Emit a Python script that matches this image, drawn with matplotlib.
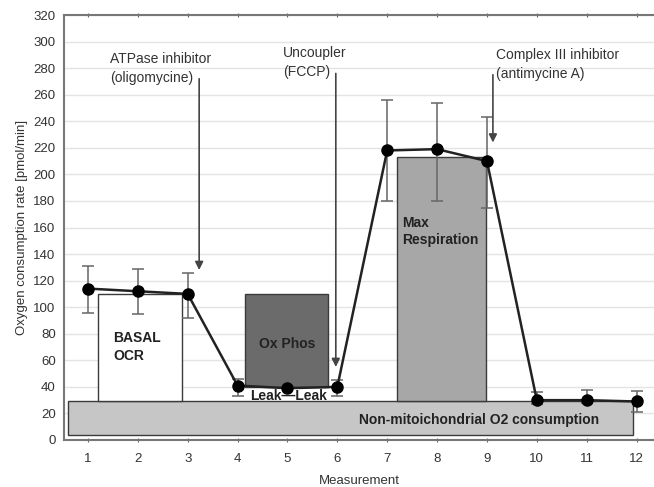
import matplotlib.pyplot as plt
import matplotlib.patches as mpatches
import numpy as np

plt.rcParams['font.family'] = ['Liberation Sans', 'DejaVu Sans']

# datos
meas = np.arange(1, 13)
ocr = np.array([114, 112, 110, 41, 39, 40, 218, 219, 210, 30, 30, 29])
err_lo = np.array([96, 95, 92, 33, 39, 33, 180, 180, 175, 27, 28, 21])
err_hi = np.array([131, 129, 126, 46, 39, 45, 256, 254, 243, 36, 38, 37])

# regiones: (x0, x1, y0, y1, color)
reg_x0 = [0.6, 1.2, 4.15, 7.2]
reg_x1 = [11.93, 2.88, 5.81, 8.98]
reg_y0 = [3.5, 29, 40, 29]
reg_y1 = [29, 110, 110, 213]
reg_col = ['#c6c6c6', 'white', '#6b6b6b', '#a7a7a7']

# inyecciones: x, y inicio, y punta, texto
iny_x = [3.23, 5.97, 9.12]
iny_top = [272, 276, 275]
iny_tip = [128, 55, 224]
iny_lab = ['ATPase inhibitor\n(oligomycine)', 'Uncoupler\n(FCCP)', 'Complex III inhibitor\n(antimycine A)']
iny_lx = [1.44, 4.91, 9.18]

fig = plt.figure(figsize=(6.54, 4.87), dpi=100)
ax = fig.add_axes([64/654, 47/487, 1 - 64/654, 425/487])

for y in range(20, 321, 20):
    ax.axhline(y, color='#e4e4e4', lw=1.0, zorder=0)

for x0, x1, y0, y1, c in zip(reg_x0, reg_x1, reg_y0, reg_y1, reg_col):
    ax.add_patch(mpatches.Rectangle((x0, y0), x1 - x0, y1 - y0, facecolor=c,
                                    edgecolor='#3a3a3a', lw=1.0, zorder=2))

ax.errorbar(meas, ocr, yerr=[ocr - err_lo, err_hi - ocr], fmt='none',
            ecolor='#666666', elinewidth=1.1, capsize=4, capthick=1.1, zorder=3)
ax.plot(meas, ocr, color='#222222', lw=1.8, marker='o', ms=8, mfc='black', mec='black', zorder=4)

for x, yt, yb, lab, lx in zip(iny_x, iny_top, iny_tip, iny_lab, iny_lx):
    ax.annotate('', xy=(x, yb), xytext=(x, yt),
                arrowprops=dict(arrowstyle='-|>', color='#444444', lw=1.2,
                                mutation_scale=12, shrinkA=0, shrinkB=0), zorder=5)
    ax.text(lx, yt + 8, lab, fontsize=10, color='#333333', ha='left', va='center',
            linespacing=1.45, zorder=5)

ax.text(1.5, 70, 'BASAL\nOCR', fontsize=10, fontweight='bold', color='#222222',
        ha='left', va='center', linespacing=1.35, zorder=5)
ax.text(5.0, 72, 'Ox Phos', fontsize=10, fontweight='bold', color='#222222',
        ha='center', va='center', zorder=5)
ax.text(7.3, 157, 'Max\nRespiration', fontsize=10, fontweight='bold', color='#222222',
        ha='left', va='center', linespacing=1.35, zorder=5)
ax.text(5.03, 33, 'Leak\u2014Leak', fontsize=10, fontweight='bold', color='#222222',
        ha='center', va='center', zorder=5)
ax.text(8.84, 15, 'Non-mitoichondrial O2 consumption', fontsize=10, fontweight='bold',
        color='#222222', ha='center', va='center', zorder=5)

ax.set_xlim(0.52, 12.35)
ax.set_ylim(0, 320)
ax.set_xticks(meas)
ax.set_yticks(range(0, 321, 20))
ax.tick_params(axis='x', direction='inout', length=3, color='#666666', labelsize=9.5,
               labelcolor='#333333', top=True, pad=8)
ax.tick_params(axis='y', length=0, labelsize=9.5, labelcolor='#333333', pad=6)
for s in ['top', 'bottom', 'left']:
    ax.spines[s].set_color('#777777')
    ax.spines[s].set_linewidth(1.5)
ax.spines['right'].set_visible(False)
ax.set_xlabel('Measurement', fontsize=9.5, color='#333333', labelpad=7)
ax.set_ylabel('Oxygen consumption rate [pmol/min]', fontsize=9.5, color='#333333', labelpad=4)

fig.savefig('out.png', dpi=100)
